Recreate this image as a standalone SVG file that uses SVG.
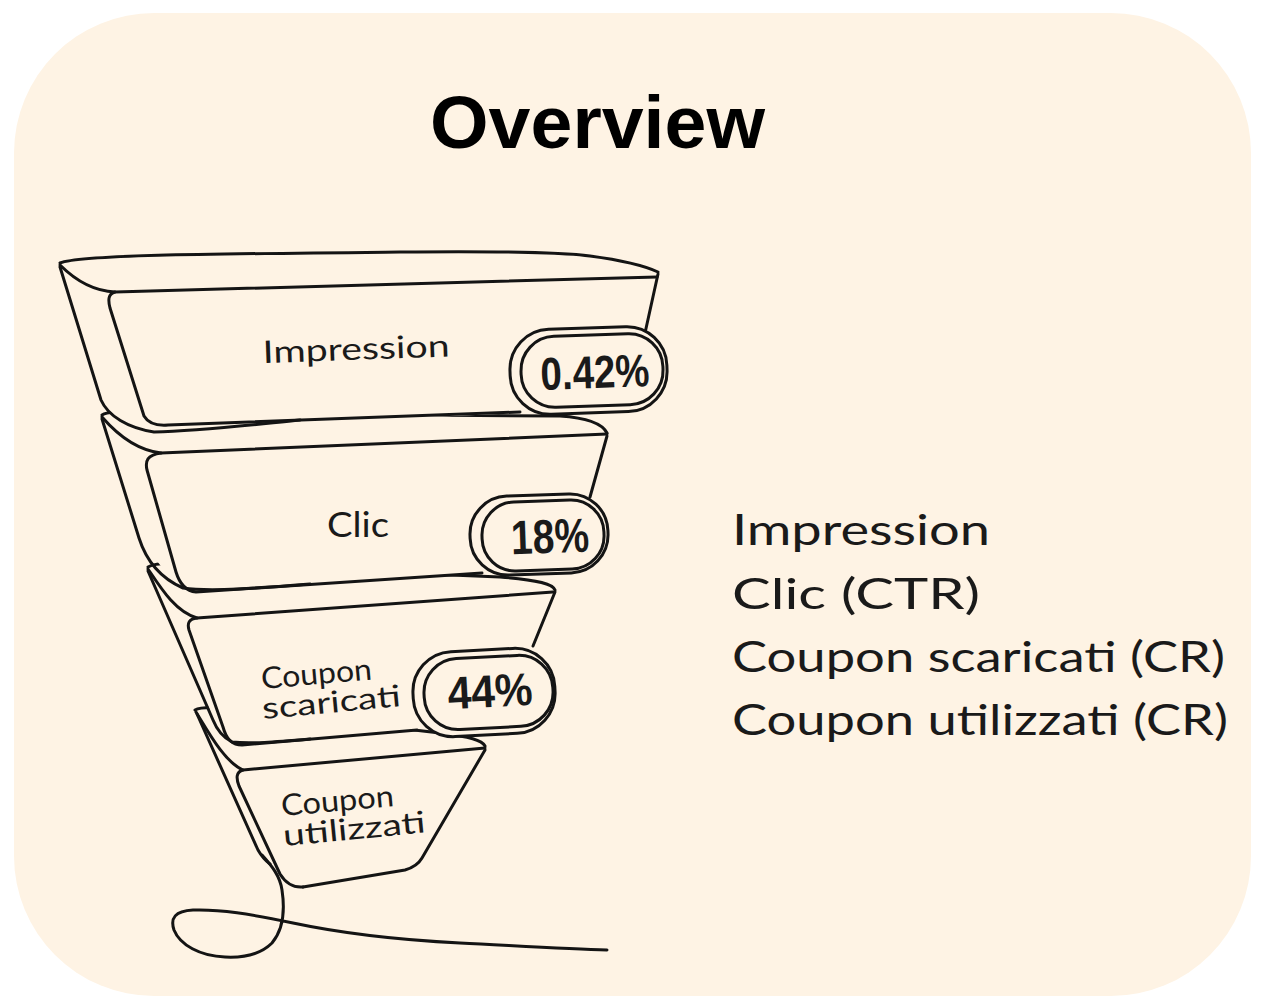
<svg xmlns="http://www.w3.org/2000/svg" width="1264" height="1007" viewBox="0 0 1264 1007">
<style>
.bg{fill:#FEF3E4}
.fl{fill:#FEF3E4;stroke:none}
.ln{fill:none;stroke:#141414;stroke-width:3;stroke-linecap:round;stroke-linejoin:round}
.pill{fill:#FEF3E4;stroke:#141414;stroke-width:3}
.hand{font-family:"Lato","Liberation Sans",sans-serif;fill:#1a1a1a}
.pct{font-family:"Liberation Sans",Arial,sans-serif;font-weight:bold;fill:#1a1a1a;text-anchor:middle}
.title{font-family:"Liberation Sans",Arial,sans-serif;font-weight:bold;font-size:75px;fill:#000}
</style>
<rect x="0" y="0" width="1264" height="1007" fill="#ffffff"/>
<rect class="bg" x="14" y="13" width="1237" height="983" rx="140" ry="140"/>
<text id="title" class="title" x="430" y="148" textLength="335" lengthAdjust="spacingAndGlyphs">Overview</text>

<g id="tail-line">
<path class="ln" stroke-width="2.5" d="M262,855 C272,866 280,876 282,890 C285,910 283,930 272,943 C262,953 245,958 225,957 C200,956 180,945 174,930 C170,918 175,911 193,910 C220,909 250,914 293,923 C340,933 400,940 460,943 C520,946 570,949 607,950"/>
</g>

<g id="tier-4">
<path class="fl" d="M195,710 C200,707 210,707 225,708 L440,733 C470,737 482,740 485,746 L420,860 L407,870 L303,887 L270,862 L197,713 Z"/>
<path class="ln" d="M195,710 C200,707 210,707 225,708 L440,733 C470,737 482,740 485,746"/>
<path class="ln" d="M196,712 C210,735 225,762 243,770 L485,748"/>
<path class="ln" d="M485,750 L422,858 C418,865 412,868 405,870 L303,887"/>
<path class="ln" d="M243,770 C236,772 236,778 239,786 L280,874 C285,882 292,888 303,887"/>
<path class="ln" d="M197,714 L258,850 C262,857 266,861 270,864"/>
<text class="hand" font-size="30" transform="translate(282,816) rotate(-5)" textLength="113" lengthAdjust="spacingAndGlyphs">Coupon</text>
<text class="hand" font-size="30" transform="translate(284,846) rotate(-5.5)" textLength="143" lengthAdjust="spacingAndGlyphs">utilizzati</text>
</g>

<g id="tier-3">
<path class="fl" d="M148,567 C155,563 165,563 180,564 L500,577 C540,580 553,584 555,590 L533,647 L417,730 L237,745 C225,740 218,732 215,722 Z"/>
<path class="ln" d="M148,567 C155,563 165,563 180,564 L500,577 C540,580 553,584 555,590"/>
<path class="ln" d="M148,569 C162,590 176,612 197,618 L553,592"/>
<path class="ln" d="M555,592 L533,646"/>
<path class="ln" d="M197,618 C189,619 187,623 189,630 L223,727 C226,738 231,745 242,745 L417,730"/>
<path class="ln" d="M148,571 L213,720 C217,730 222,737 232,742 C250,744 275,742 310,739"/>
<text class="hand" font-size="30" transform="translate(262,689) rotate(-5)" textLength="111" lengthAdjust="spacingAndGlyphs">Coupon</text>
<text class="hand" font-size="30" transform="translate(263,719) rotate(-5.3)" textLength="139" lengthAdjust="spacingAndGlyphs">scaricati</text>
<g id="badge-3">
<rect class="pill" x="413" y="650" width="142" height="85" rx="40" transform="rotate(-3 484 692)"/>
<rect class="pill" x="424" y="657" width="129" height="71" rx="34" transform="rotate(-3 488 692)"/>
<text class="pct" x="490" y="707" font-size="46" textLength="85" lengthAdjust="spacingAndGlyphs" transform="rotate(-3 490 690)">44%</text>
</g>
</g>

<g id="tier-2">
<path class="fl" d="M102,415 C108,411 120,412 140,413 L560,416 C590,418 603,425 607,433 L590,498 L482,573 L191,592 C185,590 175,585 170,578 L141,540 Z"/>
<path class="ln" d="M102,415 C108,411 120,412 140,413 L560,416 C590,418 603,425 607,433"/>
<path class="ln" d="M102,417 C115,432 135,450 161,453 L607,434"/>
<path class="ln" d="M607,436 L590,497"/>
<path class="ln" d="M161,453 C147,455 145,461 147,470 L176,572 C180,585 186,591 196,592 L482,573"/>
<path class="ln" d="M102,419 L139,538 C146,560 160,578 183,588 C210,592 260,588 310,584"/>
<text class="hand" font-size="34" x="327" y="537" textLength="62" lengthAdjust="spacingAndGlyphs">Clic</text>
<g id="badge-2">
<rect class="pill" x="470" y="495" width="138" height="79" rx="38" transform="rotate(-2 539 534)"/>
<rect class="pill" x="482" y="501" width="122" height="69" rx="33" transform="rotate(-2 543 535)"/>
<text class="pct" x="550" y="553" font-size="48" textLength="78" lengthAdjust="spacingAndGlyphs" transform="rotate(-2 550 536)">18%</text>
</g>
</g>

<g id="tier-1">
<path class="fl" d="M60,262 C80,255 200,254 400,252 C500,251 560,252 590,256 C620,260 645,266 658,272 L645,335 L640,410 L520,413 L290,423 L154,432 C130,425 110,415 102,403 Z"/>
<path class="ln" d="M60,263 C80,255 200,254 400,252 C500,251 560,252 590,256 C620,260 645,266 658,272"/>
<path class="ln" d="M60,265 C75,280 92,291 115,292 L657,277"/>
<path class="ln" d="M658,274 L645,333"/>
<path class="ln" d="M115,292 C108,294 108,300 110,308 L144,416 C148,423 155,426 168,425 L520,412"/>
<path class="ln" d="M60,267 L101,400 C108,416 128,428 154,432 C200,431 250,425 300,420"/>
<text class="hand" font-size="31" transform="translate(263,363) rotate(-2)" textLength="187" lengthAdjust="spacingAndGlyphs">Impression</text>
<g id="badge-1">
<rect class="pill" x="510" y="328" width="157" height="85" rx="40" transform="rotate(-2 588 370)"/>
<rect class="pill" x="521" y="335" width="142" height="71" rx="34" transform="rotate(-2 592 370)"/>
<text class="pct" x="595" y="388" font-size="46" textLength="109" lengthAdjust="spacingAndGlyphs" transform="rotate(-2 595 372)">0.42%</text>
</g>
</g>

<g id="legend">
<text class="hand" font-size="42" x="732" y="545" textLength="258" lengthAdjust="spacingAndGlyphs">Impression</text>
<text class="hand" font-size="42" x="732" y="609" textLength="248" lengthAdjust="spacingAndGlyphs">Clic (CTR)</text>
<text class="hand" font-size="42" x="732" y="672" textLength="493" lengthAdjust="spacingAndGlyphs">Coupon scaricati (CR)</text>
<text class="hand" font-size="42" x="732" y="735" textLength="496" lengthAdjust="spacingAndGlyphs">Coupon utilizzati (CR)</text>
</g>
</svg>
